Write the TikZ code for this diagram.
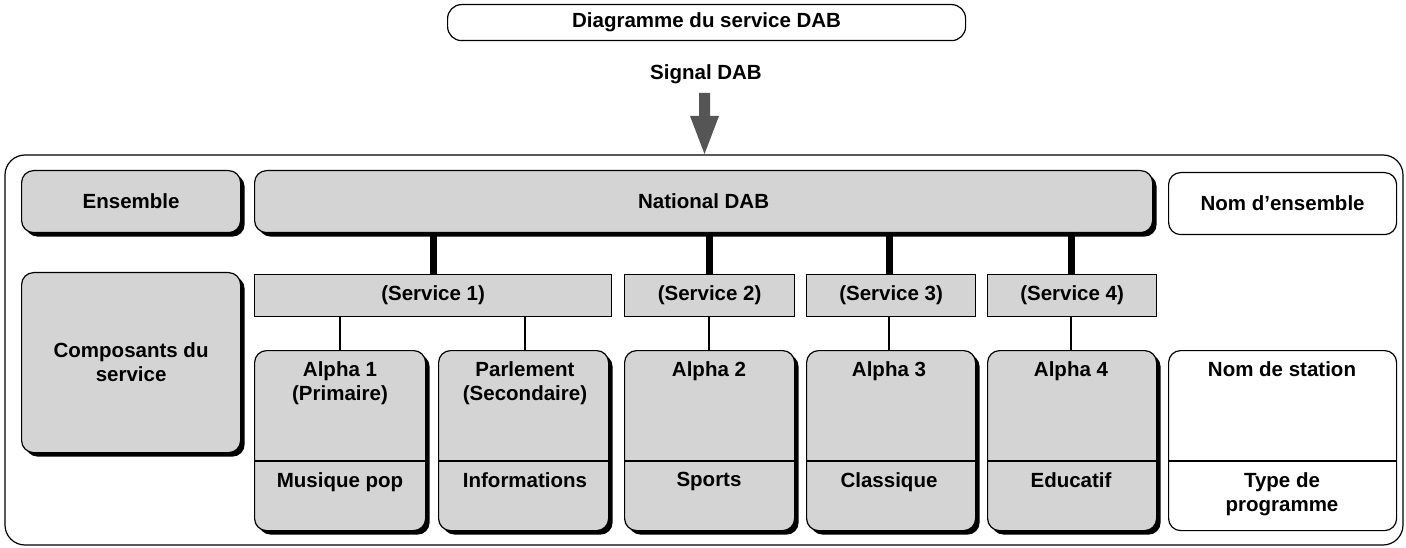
\documentclass[tikz,border=0pt]{standalone}
\usepackage{fontspec}
\setmainfont{Liberation Sans}
\usetikzlibrary{shadows}
\definecolor{boxgray}{RGB}{212,212,212}
\definecolor{arrowgray}{RGB}{85,85,85}
\tikzset{
  box/.style={draw, line width=1.2pt, fill=boxgray, rounded corners=12pt, anchor=north west, inner sep=0pt,
    drop shadow={shadow xshift=4pt, shadow yshift=-4pt, fill=black, opacity=1}},
  wbox/.style={draw, line width=1.2pt, fill=white, rounded corners=12pt, anchor=north west, inner sep=0pt},
  svc/.style={draw, line width=1.2pt, fill=boxgray, anchor=north west, inner sep=0pt},
  txt/.style={font=\bfseries\fontsize{20.5}{24}\selectfont, align=center, inner sep=0pt},
  thick link/.style={line width=7pt},
  thin link/.style={line width=1.2pt}
}
\newcommand{\bx}[6]{% style, name, x1, y1, x2, y2
  \node[#1, minimum width={(#5-#3)*1pt}, minimum height={(#6-#4)*1pt}] (#2) at (#3,#4) {};}
\begin{document}
\begin{tikzpicture}[x=1pt,y=-1pt]
  \useasboundingbox (0,0) rectangle (1406,548);
  % header
  \bx{wbox, rounded corners=14pt}{title}{447}{4}{965}{40}
  \node[txt] (titletxt) at (title.center) {Diagramme du service DAB};
  \node[txt] (signal) at (706,74) {Signal DAB};
  \draw[fill=arrowgray, draw=none] (699,93) -- (710,93) -- (710,116) -- (719,116) -- (704.5,154) -- (690,116) -- (699,116) -- cycle;
  % frame
  \draw[line width=1.2pt, rounded corners=20pt] (5,155) rectangle (1403,545);
  % left column
  \bx{box}{ens}{21}{170}{240}{232}
  \node[txt] (enstxt) at (ens.center) {Ensemble};
  \bx{box}{comp}{21}{272}{240}{452}
  \node[txt] (comptxt) at (comp.center) {Composants du\\service};
  % ensemble
  \bx{box}{natl}{254}{170}{1152}{232}
  \node[txt] (natltxt) at (natl.center) {National DAB};
  \bx{wbox}{nomens}{1168}{172}{1396}{234}
  \node[txt] (nomenstxt) at (nomens.center) {Nom d’ensemble};
  % services
  \foreach \n/\xa/\xb/\xc in {1/254/611/433, 2/624/794/709, 3/806/975/889, 4/987/1156/1071}{
    \bx{svc}{s\n}{\xa}{274}{\xb}{316}
    \node[txt] (s\n txt) at (s\n.center) {(Service \n)};
    \coordinate (up\n) at (\xc,232);
    \draw[thick link] (up\n) -- (up\n |- s\n.north);
  }
  % stations
  \foreach \n/\xa/\xb/\xc/\top/\bot in {
      a/254/425/340/{Alpha 1\\(Primaire)}/{Musique pop},
      b/438/608/525/{Parlement\\(Secondaire)}/Informations,
      c/624/794/709/{Alpha 2}/Sports,
      d/806/975/889/{Alpha 3}/Classique,
      e/987/1156/1071/{Alpha 4}/Educatif}{
    \bx{box}{st\n}{\xa}{350}{\xb}{530}
    \draw[thin link] (\xa,461) -- (\xb,461);
    \node[txt, anchor=north] (st\n top) at (\xc,361) {\top};
    \node[txt, anchor=north] (st\n bot) at (\xc,472) {\bot};
    \coordinate (dn\n) at (\xc,316);
    \draw[thin link] (dn\n) -- (dn\n |- st\n.north);
  }
  \bx{wbox}{nomst}{1168}{350}{1396}{530}
  \draw[thin link] (1168,461) -- (1396,461);
  \node[txt, anchor=north] (nomsttop) at (1282,361) {Nom de station};
  \node[txt, anchor=north] (nomstbot) at (1282,472) {Type de\\programme};
\end{tikzpicture}
\end{document}
